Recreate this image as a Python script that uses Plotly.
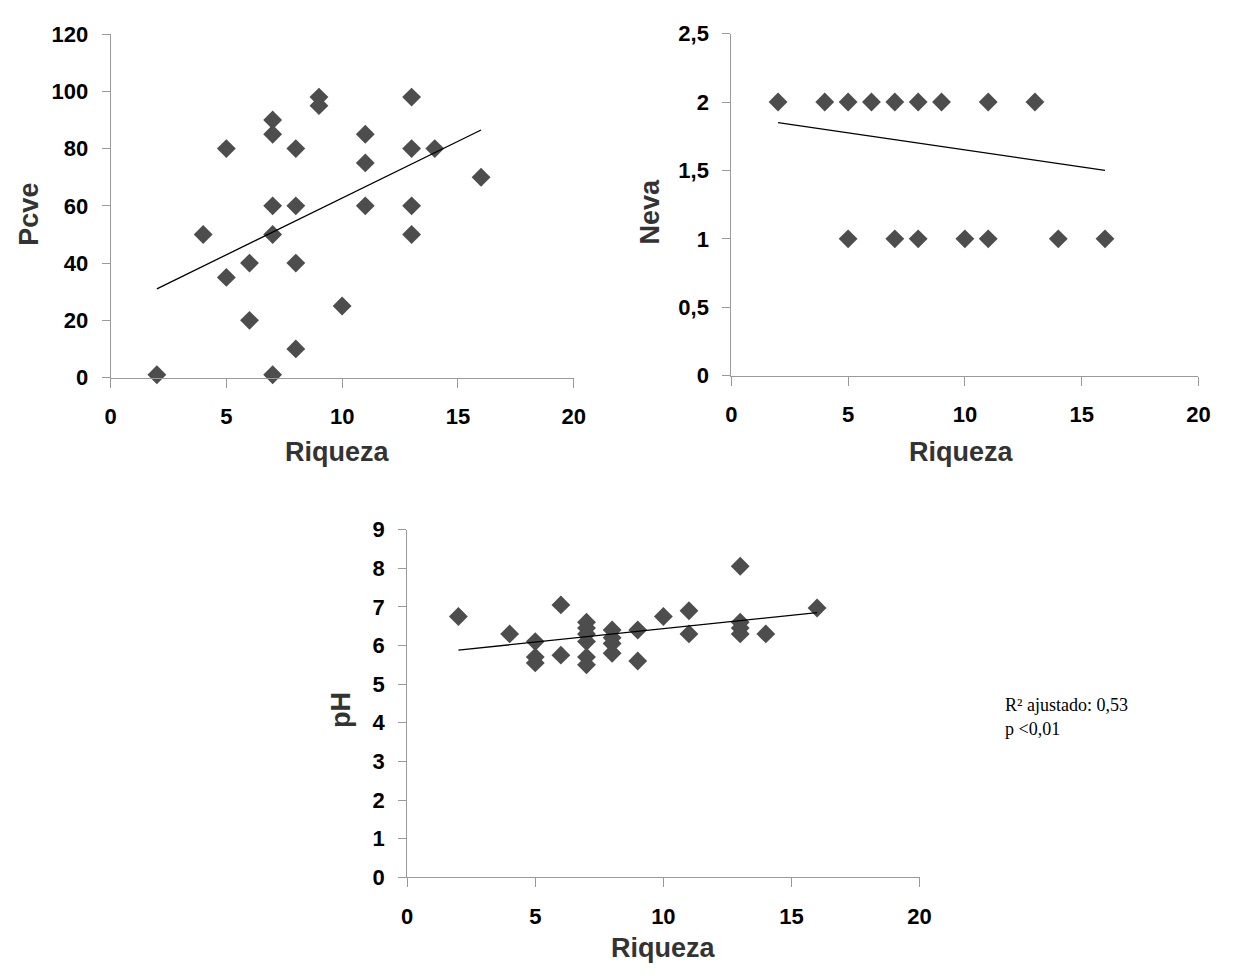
import plotly.graph_objects as go

# The page body adds an 8px margin, so the figure is drawn 8px in and sized to fit.
PAGE_W, PAGE_H, OFF = 1238, 980, 8
W, H = PAGE_W - OFF, PAGE_H - OFF

# ---- data ----
riqueza_pcve = [2, 4, 5, 5, 6, 6, 7, 7, 7, 7, 7, 8, 8, 8, 8, 9, 9, 10, 11, 11, 11, 13, 13, 13, 13, 14, 16]
pcve = [1, 50, 80, 35, 40, 20, 90, 85, 60, 50, 1, 80, 60, 40, 10, 98, 95, 25, 85, 75, 60, 98, 80, 60, 50, 80, 70]

riqueza_neva = [2, 4, 5, 6, 7, 8, 9, 11, 13, 5, 7, 8, 10, 11, 14, 16]
neva = [2, 2, 2, 2, 2, 2, 2, 2, 2, 1, 1, 1, 1, 1, 1, 1]

riqueza_ph = [2, 4, 5, 5, 5, 6, 6, 7, 7, 7, 7, 7, 7, 8, 8, 8, 8, 9, 9, 10, 11, 11, 13, 13, 13, 13, 14, 16]
ph = [6.75, 6.3, 6.1, 5.7, 5.55, 7.05, 5.75, 6.6, 6.45, 6.3, 6.1, 5.7, 5.5, 6.4, 6.2, 6.05, 5.8,
      6.4, 5.6, 6.75, 6.9, 6.3, 8.05, 6.6, 6.45, 6.3, 6.3, 6.97]

trend_x = [2, 16]
trend_pcve = [31, 86.5]
trend_neva = [1.85, 1.5]
trend_ph = [5.88, 6.85]

x_ticks = [0, 5, 10, 15, 20]
pcve_ticks = [0, 20, 40, 60, 80, 100, 120]
neva_ticks = [0, 0.5, 1, 1.5, 2, 2.5]
neva_ticktext = ["0", "0,5", "1", "1,5", "2", "2,5"]
ph_ticks = [0, 1, 2, 3, 4, 5, 6, 7, 8, 9]

x_title = "Riqueza"
y_titles = ["Pcve", "Neva", "pH"]
note_lines = ["R² ajustado: 0,53", "p <0,01"]

# ---- styling ----
MARK = "#4d4d4d"
AXC = "#9a9a9a"
TICKFONT = dict(family="Liberation Sans, Arial, sans-serif", size=22, color="#000000", weight="bold")
TITLEFONT = dict(family="Liberation Sans, Arial, sans-serif", size=27, color="#333333", weight="bold")


def px_x(p):
    return (p - OFF) / W


def px_y(p):
    return 1 - (p - OFF) / H


fig = go.Figure()

panels = [
    (riqueza_pcve, pcve, trend_pcve, "x", "y"),
    (riqueza_neva, neva, trend_neva, "x2", "y2"),
    (riqueza_ph, ph, trend_ph, "x3", "y3"),
]
for xs, ys, tr, xa, ya in panels:
    fig.add_trace(go.Scatter(x=xs, y=ys, mode="markers", xaxis=xa, yaxis=ya,
                             marker=dict(symbol="diamond", size=14.5, color=MARK, line=dict(width=0)),
                             cliponaxis=False, showlegend=False))
    fig.add_trace(go.Scatter(x=trend_x, y=tr, mode="lines", xaxis=xa, yaxis=ya,
                             line=dict(color="#000000", width=1.3), showlegend=False))

common_x = dict(range=[0, 20], tickvals=x_ticks, showline=True, linecolor=AXC, linewidth=1,
                ticks="outside", ticklen=9, tickcolor=AXC, showgrid=False, zeroline=False,
                tickfont=TICKFONT, ticklabelstandoff=10, fixedrange=True)
common_y = dict(showline=True, linecolor=AXC, linewidth=1, ticks="outside", ticklen=8,
                tickcolor=AXC, showgrid=False, zeroline=False, tickfont=TICKFONT,
                ticklabelstandoff=9, fixedrange=True)

fig.update_layout(
    width=W, height=H,
    margin=dict(l=0, r=0, t=0, b=0),
    paper_bgcolor="white", plot_bgcolor="white",
    showlegend=False,
    xaxis=dict(common_x, domain=[px_x(106), px_x(576)], anchor="y"),
    yaxis=dict(common_y, domain=[px_y(375), px_y(22.5)], range=[0, 120], tickvals=pcve_ticks, anchor="x"),
    xaxis2=dict(common_x, domain=[px_x(736), px_x(1210)], anchor="y2"),
    yaxis2=dict(common_y, domain=[px_y(373), px_y(22)], range=[0, 2.5], tickvals=neva_ticks,
                ticktext=neva_ticktext, anchor="x2"),
    xaxis3=dict(common_x, domain=[px_x(407), px_x(927)], anchor="y3"),
    yaxis3=dict(common_y, domain=[px_y(888), px_y(531)], range=[0, 9], tickvals=ph_ticks, anchor="x3"),
)

annos = [
    dict(text=x_title, x=px_x(336), y=px_y(451)),
    dict(text=x_title, x=px_x(970), y=px_y(451)),
    dict(text=x_title, x=px_x(667), y=px_y(960)),
    dict(text=y_titles[0], x=px_x(23), y=px_y(207), textangle=-90),
    dict(text=y_titles[1], x=px_x(653), y=px_y(205), textangle=-90),
    dict(text=y_titles[2], x=px_x(340), y=px_y(716), textangle=-90),
]
for a in annos:
    fig.add_annotation(xref="paper", yref="paper", showarrow=False, font=TITLEFONT,
                       xanchor="center", yanchor="middle", **a)

for i, line in enumerate(note_lines):
    fig.add_annotation(xref="paper", yref="paper", showarrow=False, text=line,
                       x=px_x(1012), y=px_y(711 + 25 * i), xanchor="left", yanchor="middle",
                       font=dict(family="Liberation Serif, Times New Roman, serif", size=18, color="#000000"))

fig.write_html("out.html")
